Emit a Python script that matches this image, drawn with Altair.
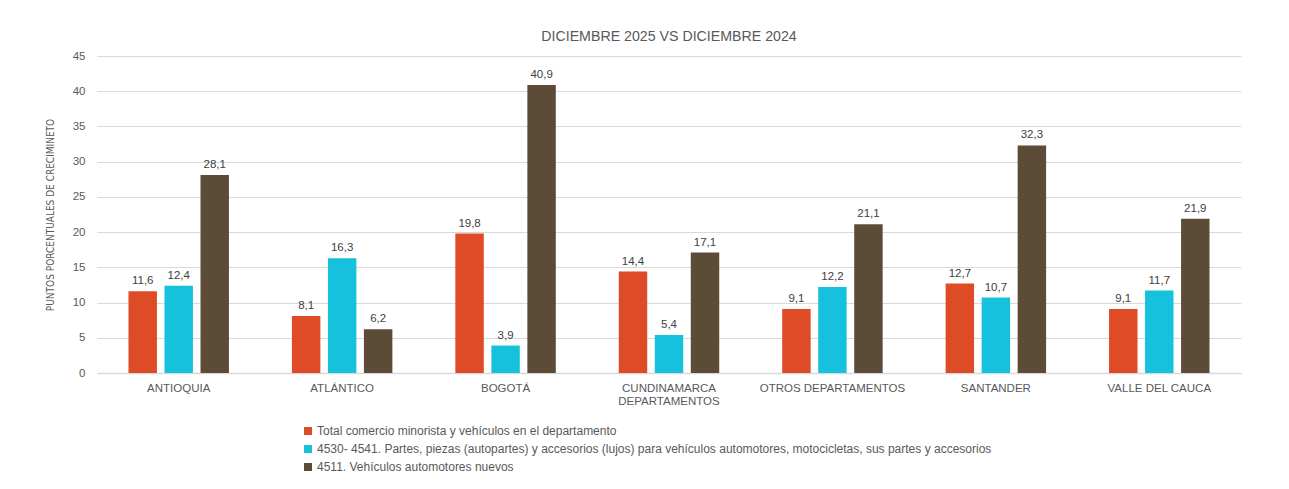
import altair as alt
import pandas as pd

categorias = ["ANTIOQUIA", "ATLÁNTICO", "BOGOTÁ", "CUNDINAMARCA DEPARTAMENTOS",
              "OTROS DEPARTAMENTOS", "SANTANDER", "VALLE DEL CAUCA"]
series = ["Total comercio minorista y vehículos en el departamento",
          "4530- 4541. Partes, piezas (autopartes) y accesorios (lujos) para vehículos automotores, motocicletas, sus partes y accesorios",
          "4511. Vehículos automotores nuevos"]
total = [11.6, 8.1, 19.8, 14.4, 9.1, 12.7, 9.1]
partes = [12.4, 16.3, 3.9, 5.4, 12.2, 10.7, 11.7]
vehiculos = [28.1, 6.2, 40.9, 17.1, 21.1, 32.3, 21.9]
colores = ["#DD4B27", "#16C1DD", "#5C4B37"]

rows = []
for vals, s in zip([total, partes, vehiculos], series):
    for c, v in zip(categorias, vals):
        rows.append({"cat": c, "serie": s, "valor": v})
df = pd.DataFrame(rows)

FONT = "Liberation Sans, Arial, sans-serif"
NARROW = "Liberation Sans Narrow, DejaVu Sans Condensed, Arial Narrow, sans-serif"
GRAY = "#595959"

x = alt.X("cat:N", sort=categorias, title=None,
          scale=alt.Scale(paddingInner=0.339, paddingOuter=0.1695),
          axis=alt.Axis(labelAngle=0, labelColor=GRAY, labelFontSize=11.5, labelFont=FONT,
                        domainColor="#D9D9D9", domainWidth=1.5, ticks=False, labelPadding=9,
                        labelExpr="datum.value == 'CUNDINAMARCA DEPARTAMENTOS' ? ['CUNDINAMARCA','DEPARTAMENTOS'] : datum.value"))
xo = alt.XOffset("serie:N", sort=series,
                 scale=alt.Scale(paddingInner=0.21, paddingOuter=0.105))
y = alt.Y("valor:Q", title="PUNTOS PORCENTUALES DE CRECIMINETO",
          scale=alt.Scale(domain=[0, 45]),
          axis=alt.Axis(values=list(range(0, 50, 5)), grid=True, gridColor="#D9D9D9",
                        domain=False, ticks=False, labelColor=GRAY, labelFontSize=11.5,
                        labelFont=FONT, labelPadding=12, titleColor=GRAY, titleFontSize=10,
                        titleFont=NARROW, titleFontWeight="normal", titlePadding=17))

bars = alt.Chart(df).mark_bar().encode(
    x=x, xOffset=xo, y=y,
    color=alt.Color("serie:N", sort=series,
                    scale=alt.Scale(domain=series, range=colores),
                    legend=alt.Legend(title=None, orient="none", legendX=205, legendY=369,
                                      direction="vertical", symbolType="square", symbolSize=64,
                                      labelFontSize=12, labelFont=FONT, labelColor=GRAY,
                                      labelLimit=900, rowPadding=6, symbolStrokeWidth=0,
                                      labelOffset=3, padding=0)),
)

text = alt.Chart(df).transform_calculate(
    lab="replace(format(datum.valor, '.1f'), '.', ',')"
).mark_text(dy=-10, fontSize=11.5, font=FONT, color="#404040").encode(
    x=x, xOffset=xo, y=y, text="lab:N"
)

chart = alt.layer(bars, text).properties(
    width=1144, height=317,
    title=alt.TitleParams("DICIEMBRE 2025 VS DICIEMBRE 2024", fontSize=14.2, font=FONT,
                          color=GRAY, fontWeight="normal", offset=6),
    padding={"left": 37, "top": 21, "right": 5, "bottom": 5},
).configure_view(stroke=None)

chart.save("out.html", embed_options={"renderer": "svg", "actions": False})
